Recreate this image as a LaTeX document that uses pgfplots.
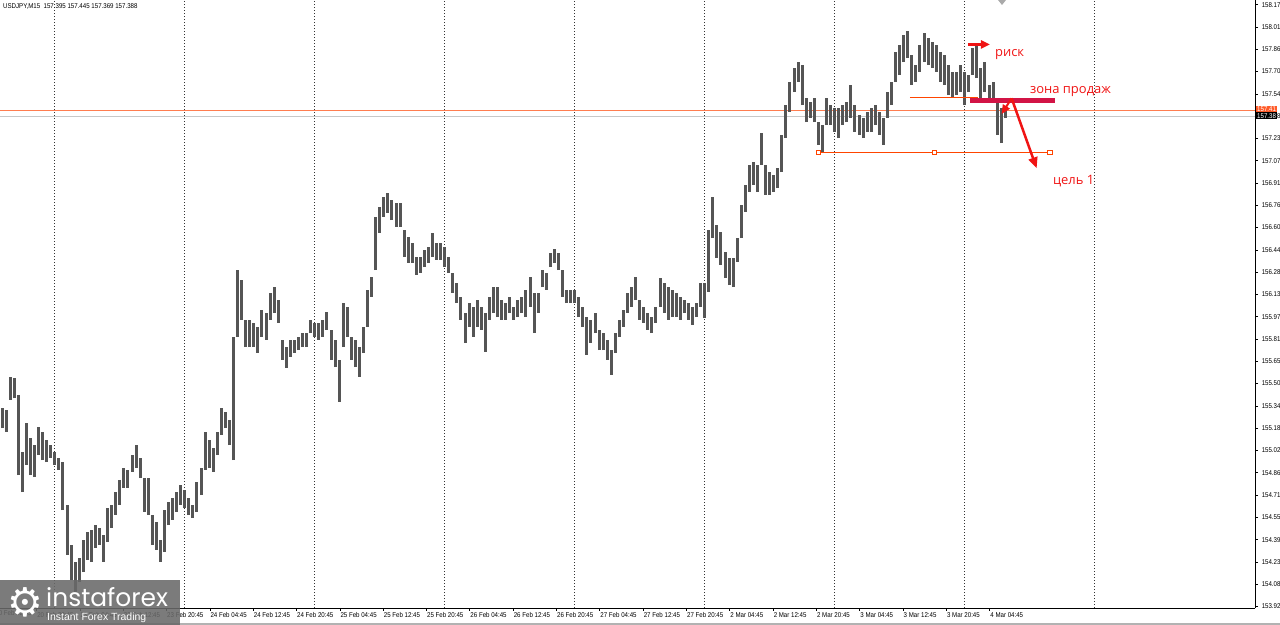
\documentclass[border=0pt]{standalone}
\usepackage{pgfplots}
\pgfplotsset{compat=1.18}
\usepackage{pgfplotstable}
\usepackage{fontspec}
\usetikzlibrary{arrows.meta}
\setmainfont{Liberation Sans}
\newfontfamily\tickfont[FakeStretch=0.88]{Liberation Sans}
\newfontfamily\annfont{Open Sans}
\newfontfamily\logofont{Poppins}
\newfontfamily\symfont{DejaVu Sans}
\newcommand\tf{\tickfont\fontsize{7}{8}\selectfont}
\definecolor{barc}{RGB}{85,85,85}
\definecolor{ordl}{RGB}{255,69,0}
\definecolor{coralline}{RGB}{255,125,80}
\definecolor{crims}{RGB}{210,20,70}
\definecolor{annred}{RGB}{240,20,20}
\definecolor{logogray}{RGB}{105,105,105}
\definecolor{bidgray}{RGB}{200,200,200}
\definecolor{boxorange}{RGB}{255,90,40}
\definecolor{shiftgray}{RGB}{170,170,170}

\pgfplotstableread{
lo hi
155.180 155.322
155.152 155.308
155.378 155.541
155.392 155.534
154.848 155.413
154.728 155.011
154.919 155.216
154.848 155.110
154.834 155.060
154.990 155.187
154.954 155.152
154.940 155.096
154.969 155.060
154.919 155.011
154.884 154.969
154.601 154.940
154.284 154.637
154.107 154.354
154.015 154.234
154.093 154.262
154.163 154.389
154.248 154.446
154.234 154.460
154.333 154.495
154.354 154.474
154.234 154.425
154.375 154.615
154.474 154.637
154.566 154.728
154.637 154.813
154.757 154.898
154.757 154.884
154.870 154.990
154.898 155.060
154.827 154.969
154.587 154.827
154.566 154.827
154.354 154.566
154.319 154.517
154.234 154.389
154.305 154.601
154.495 154.658
154.531 154.686
154.587 154.728
154.637 154.778
154.615 154.743
154.566 154.686
154.545 154.637
154.587 154.799
154.707 154.898
154.884 155.152
154.898 155.096
154.870 155.039
154.990 155.152
155.131 155.322
155.180 155.293
155.060 155.237
154.954 155.823
155.823 156.296
155.943 156.226
155.752 155.943
155.752 155.943
155.752 155.922
155.710 155.894
155.823 156.014
155.802 155.993
155.943 156.134
155.993 156.176
155.922 156.084
155.661 155.802
155.604 155.752
155.682 155.802
155.710 155.802
155.731 155.823
155.752 155.851
155.752 155.851
155.851 155.943
155.823 155.922
155.802 155.922
155.823 155.943
155.873 156.000
155.661 155.873
155.611 155.802
155.364 155.661
155.752 156.063
155.823 156.035
155.661 155.823
155.611 155.802
155.541 155.752
155.710 155.894
155.894 156.155
156.106 156.247
156.296 156.671
156.558 156.741
156.671 156.812
156.699 156.840
156.649 156.791
156.600 156.769
156.600 156.769
156.388 156.579
156.346 156.529
156.346 156.487
156.261 156.388
156.275 156.388
156.317 156.437
156.346 156.459
156.388 156.558
156.367 156.487
156.367 156.487
156.317 156.459
156.275 156.388
156.134 156.275
156.063 156.204
155.943 156.106
155.781 155.993
155.894 156.063
155.823 156.035
155.894 156.084
155.873 156.035
155.717 155.993
155.943 156.106
155.993 156.176
155.964 156.176
155.943 156.084
155.943 156.063
155.993 156.106
155.943 156.035
155.964 156.084
155.993 156.106
155.964 156.155
156.035 156.247
155.851 156.134
155.993 156.134
156.176 156.296
156.155 156.275
156.317 156.416
156.346 156.445
156.296 156.416
156.106 156.296
156.063 156.155
156.063 156.155
156.063 156.155
155.964 156.106
155.894 156.035
155.696 155.964
155.781 155.943
155.851 155.993
155.731 155.873
155.731 155.851
155.661 155.802
155.555 155.731
155.710 155.851
155.823 155.943
155.894 156.014
155.993 156.134
156.035 156.176
156.084 156.247
155.943 156.084
155.922 156.035
155.873 155.993
155.851 155.964
155.922 156.035
156.035 156.240
155.993 156.204
155.943 156.176
155.964 156.155
155.964 156.134
155.943 156.106
155.993 156.084
155.943 156.063
155.908 156.035
155.964 156.063
156.035 156.204
155.957 156.204
156.141 156.579
156.522 156.812
156.381 156.614
156.332 156.565
156.240 156.423
156.190 156.381
156.176 156.381
156.353 156.522
156.522 156.755
156.706 156.897
156.847 157.038
156.897 157.059
156.847 157.038
157.038 157.264
156.826 157.038
156.826 156.988
156.847 156.967
156.875 157.017
156.988 157.250
157.228 157.461
157.412 157.624
157.553 157.723
157.624 157.765
157.461 157.744
157.341 157.511
157.370 157.483
157.341 157.511
157.179 157.341
157.130 157.320
157.320 157.511
157.320 157.461
157.271 157.440
157.228 157.440
157.320 157.461
157.341 157.483
157.370 157.603
157.271 157.461
157.250 157.391
157.228 157.370
157.271 157.412
157.271 157.440
157.320 157.461
157.250 157.412
157.179 157.370
157.370 157.553
157.461 157.624
157.624 157.836
157.673 157.885
157.765 157.956
157.793 157.984
157.603 157.815
157.624 157.744
157.695 157.885
157.765 157.970
157.744 157.935
157.723 157.906
157.695 157.885
157.624 157.836
157.603 157.815
157.532 157.744
157.511 157.695
157.532 157.695
157.553 157.744
157.461 157.695
157.553 157.673
157.673 157.864
157.652 157.885
157.511 157.723
157.553 157.765
157.483 157.603
157.511 157.624
157.250 157.483
157.193 157.440
157.369 157.445
}\bars

\begin{document}
\begin{tikzpicture}
\path[use as bounding box] (0bp,0bp) rectangle (1280bp,625bp);
\fill[gray!60] (0bp,0bp) rectangle (1280bp,2bp);
\begin{axis}[
  at={(0bp,17bp)}, anchor=south west,
  scale only axis, width=1255bp, height=608bp,
  xmin=0, xmax=927, ymin=153.909, ymax=158.203,
  axis x line*=bottom, axis y line*=right,
  axis line style={black, line width=0.8bp, -},
  tick align=outside, major tick length=3bp,
  tick style={black, line width=0.6bp},
  xtick={27,59,...,731},
  xticklabels={20 Feb 20:45, 23 Feb 04:45, 23 Feb 12:45, 23 Feb 20:45, 24 Feb 04:45, 24 Feb 12:45, 24 Feb 20:45, 25 Feb 04:45, 25 Feb 12:45, 25 Feb 20:45, 26 Feb 04:45, 26 Feb 12:45, 26 Feb 20:45, 27 Feb 04:45, 27 Feb 12:45, 27 Feb 20:45, 2 Mar 04:45, 2 Mar 12:45, 2 Mar 20:45, 3 Mar 04:45, 3 Mar 12:45, 3 Mar 20:45, 4 Mar 04:45},
  xticklabel style={font=\tf, anchor=north west, inner sep=0pt, xshift=0.5bp, yshift=-1bp},
  ytick={153.920,154.077,154.235,154.392,154.550,154.707,154.864,155.022,155.179,155.337,155.494,155.651,155.809,155.966,156.124,156.281,156.438,156.596,156.753,156.911,157.068,157.225,157.383,157.540,157.698,157.855,158.012,158.170},
  yticklabels={153.92,154.08,154.23,154.39,154.55,154.71,154.86,155.02,155.18,155.34,155.50,155.65,155.81,155.97,156.13,156.28,156.44,156.60,156.76,156.91,157.07,157.23,157.38,157.54,157.70,157.86,158.01,158.17},
  yticklabel style={font=\tf, anchor=west, inner sep=0pt, xshift=3.5bp},
  extra x ticks={40,136,232,328,424,520,616,712,808},
  extra x tick labels={},
  extra x tick style={grid=major, major grid style={black!80, line width=0.7bp, dash pattern=on 1.5bp off 1.5bp}, major tick length=0pt},
]
\draw[bidgray, line width=0.8bp] (axis cs:0,157.384) -- (axis cs:927,157.384);
\draw[coralline, line width=0.9bp] (axis cs:0,157.421) -- (axis cs:927,157.421);

\addplot[draw=none, mark=none, forget plot,
  error bars/.cd, y dir=plus, y explicit, error mark=none,
  error bar style={draw=barc, line width=3bp}]
  table[x expr=3*\coordindex+1.5, y=lo, y error plus expr=\thisrow{hi}-\thisrow{lo}] {\bars};

% levels
\draw[ordl, line width=0.9bp] (axis cs:672,157.518) -- (axis cs:722,157.518);
\draw[ordl, line width=0.9bp] (axis cs:604.4,157.125) -- (axis cs:775.5,157.125);
\draw[ordl, fill=white, line width=0.7bp] (axis cs:604.4,157.125) ++(-2.2bp,-2.2bp) rectangle ++(4.4bp,4.4bp);
\draw[ordl, fill=white, line width=0.7bp] (axis cs:690,157.125) ++(-2.2bp,-2.2bp) rectangle ++(4.4bp,4.4bp);
\draw[ordl, fill=white, line width=0.7bp] (axis cs:775.5,157.125) ++(-2.2bp,-2.2bp) rectangle ++(4.4bp,4.4bp);
\draw[crims, line width=5bp] (axis cs:716.4,157.493) -- (axis cs:779.2,157.493);
% arrows
\draw[annred, line width=2.2bp, -{Triangle[length=9bp,width=8bp]}] (axis cs:714.9,157.889) -- (axis cs:731.2,157.889);
\draw[annred, line width=2.5bp, -{Triangle[length=11bp,width=9bp]}] (axis cs:747.2,157.509) -- (axis cs:765.7,157.014);
\draw[annred, line width=2bp, -{Triangle[length=9bp,width=8bp]}] (axis cs:747.2,157.509) -- (axis cs:739.8,157.398);
% texts
\node[anchor=base west, inner sep=0pt, text=annred, font=\annfont\fontsize{13}{14}\selectfont] at (axis cs:734.9,157.805) {риск};
\node[anchor=base west, inner sep=0pt, text=annred, font=\annfont\fontsize{13}{14}\selectfont] at (axis cs:760.7,157.544) {зона продаж};
\node[anchor=base west, inner sep=0pt, text=annred, font=\annfont\fontsize{13}{14}\selectfont] at (axis cs:777.7,156.897) {цель 1};
\end{axis}
% price boxes on the right scale
\node[fill=boxorange, text=white, anchor=west, inner xsep=1bp, inner ysep=0pt, minimum height=6bp, font=\tf] at (1256bp,515.5bp) {157.41};
\node[fill=black, text=white, anchor=west, inner xsep=1bp, inner ysep=0pt, minimum height=6.5bp, font=\tf] at (1256bp,509.3bp) {157.38};
% title
\node[anchor=base west, inner sep=0pt, font=\tf] at (3bp,616.5bp) {USDJPY,M15\ \ 157.395 157.445 157.369 157.388};
% leftmost partial label
\node[anchor=north west, inner sep=0pt, font=\tf] at (-4.8bp,15bp) {20 Feb 12:45};
% shift marker
\fill[shiftgray] (998bp,625bp) -- (1006bp,625bp) -- (1002bp,620bp) -- cycle;
% logo
\fill[logogray, fill opacity=0.88] (0bp,0bp) rectangle (180bp,45bp);
\node[anchor=center, inner sep=0pt, text=white, font=\symfont\fontsize{40}{40}\selectfont] at (25bp,23bp) {⚙};
\node[anchor=base west, inner sep=0pt, text=white, font=\logofont\fontsize{25}{25}\selectfont] at (46bp,18.5bp) {instaforex};
\node[anchor=base west, inner sep=0pt, text=white, font=\fontsize{10.5}{11}\selectfont] at (47bp,5bp) {Instant Forex Trading};
\end{tikzpicture}
\end{document}
